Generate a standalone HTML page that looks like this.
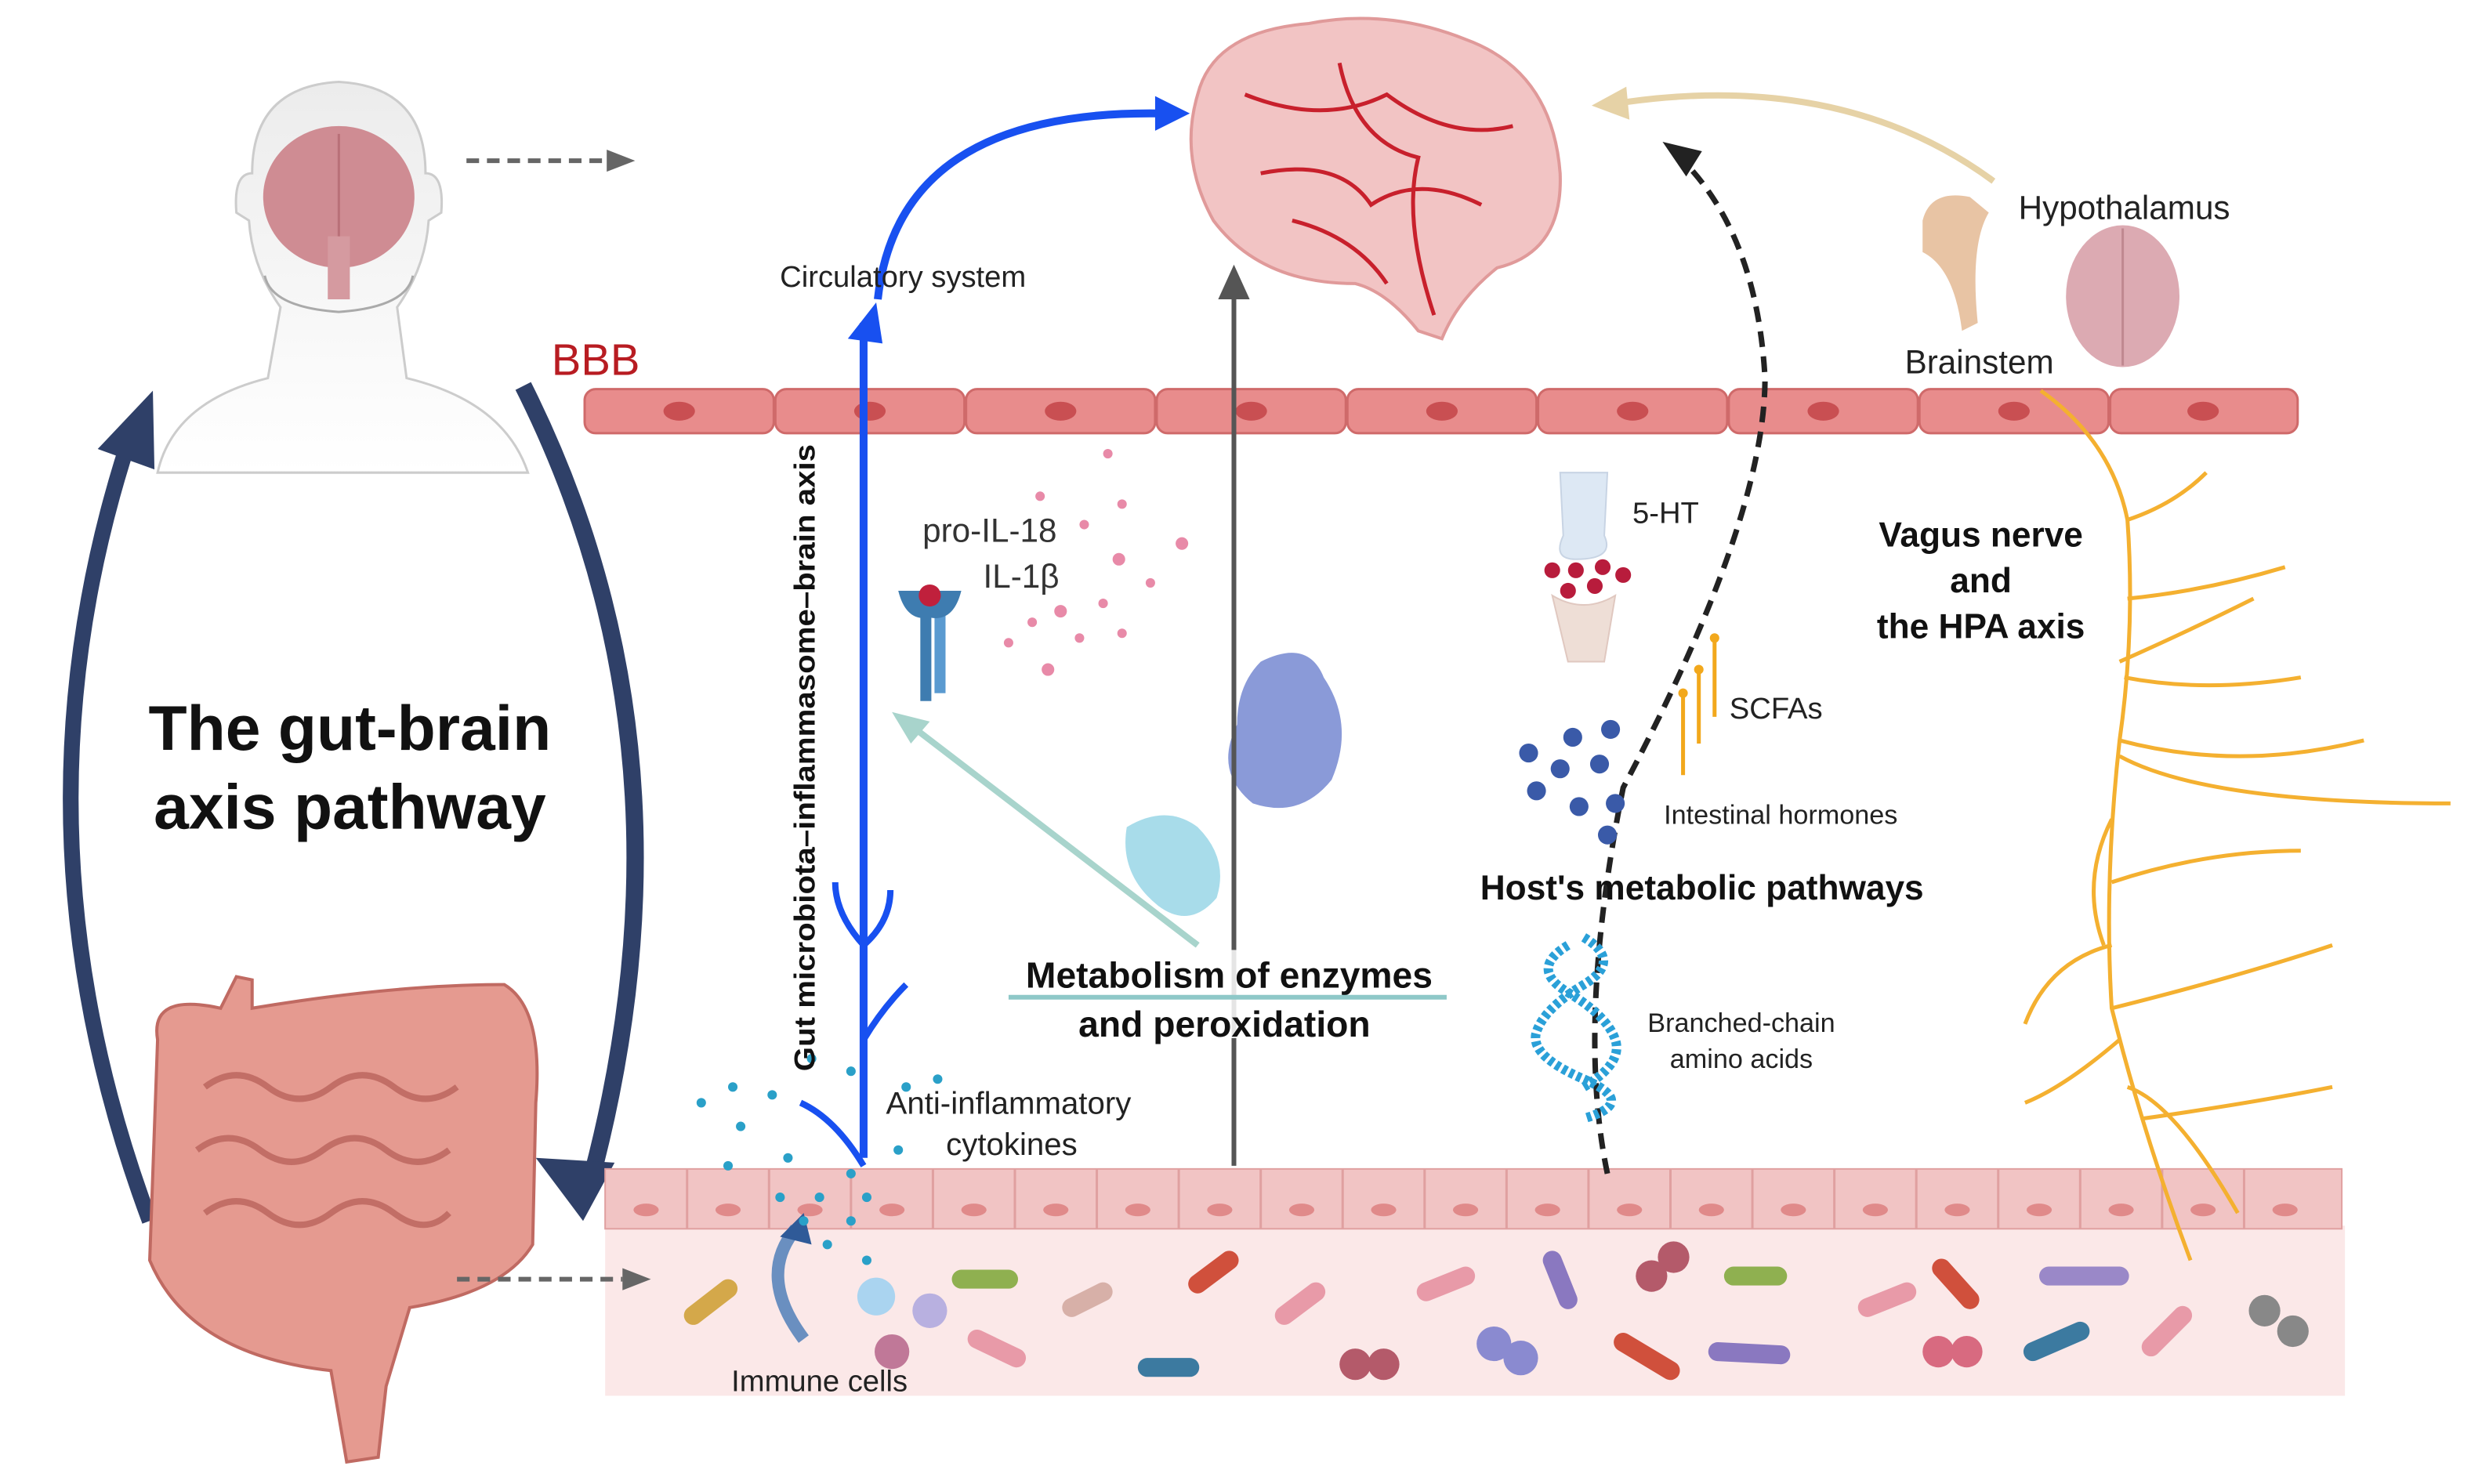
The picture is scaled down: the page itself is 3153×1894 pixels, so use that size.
<!DOCTYPE html>
<html><head><meta charset="utf-8"><style>
html,body{margin:0;padding:0;background:#fff;}
svg{display:block;}
text{font-family:"Liberation Sans",sans-serif;}
</style></head><body>
<svg width="3153" height="1894" viewBox="0 0 1568 942" preserveAspectRatio="none" xmlns="http://www.w3.org/2000/svg">
<defs>
<linearGradient id="fade" x1="0" y1="0" x2="0" y2="1"><stop offset="0" stop-color="#ececec"/><stop offset="1" stop-color="#fff"/></linearGradient>
</defs>
<rect width="1568" height="942" fill="#fff"/>
<!-- human -->
<path d="M100,300 Q110,255 170,240 L178,195 Q160,170 158,140 L150,135 Q148,110 160,110 Q160,55 215,52 Q270,55 270,110 Q282,110 280,135 L272,140 Q270,170 252,195 L258,240 Q320,255 335,300 Z" fill="url(#fade)" stroke="#ccc" stroke-width="1.5"/>
<path d="M168,175 Q172,195 215,198 Q258,195 262,175" fill="none" stroke="#aaa" stroke-width="1.5"/>
<ellipse cx="215" cy="125" rx="48" ry="45" fill="#cf8c93"/>
<rect x="208" y="150" width="14" height="40" fill="#d59aa0"/>
<line x1="215" y1="85" x2="215" y2="150" stroke="#b97078" stroke-width="1.5"/>
<line x1="296" y1="102" x2="385" y2="102" stroke="#666" stroke-width="3" stroke-dasharray="8,5"/>
<path d="M385,95 L403,102 L385,109z" fill="#666"/>
<!-- big navy arrows -->
<path d="M95,775 Q0,520 85,270" fill="none" stroke="#2f4068" stroke-width="10"/>
<path d="M62,285 L97,248 L98,298z" fill="#2f4068"/>
<path d="M332,245 Q450,480 372,760" fill="none" stroke="#2f4068" stroke-width="11"/>
<path d="M340,735 L390,738 L370,775z" fill="#2f4068"/>
<text x="222" y="476" font-size="40" font-weight="bold" text-anchor="middle" fill="#111">The gut-brain</text>
<text x="222" y="526" font-size="40" font-weight="bold" text-anchor="middle" fill="#111">axis pathway</text>
<!-- intestine -->
<path d="M100,660 Q95,630 140,640 L150,620 L160,622 L160,640 Q250,625 320,625 Q345,640 340,700 L338,790 Q320,820 260,830 L245,880 L240,925 L220,928 L210,870 Q120,860 95,800 Z" fill="#e59a90" stroke="#c06a62" stroke-width="2"/>
<path d="M130,690 q20,-15 40,0 t40,0 t40,0 t40,0 M125,730 q20,-15 40,0 t40,0 t40,0 t40,0 M130,770 q20,-15 40,0 t40,0 t40,0 t35,0" fill="none" stroke="#c26e66" stroke-width="4"/>
<!-- BBB -->
<text x="350" y="238" font-size="28" fill="#b81c22">BBB</text>
<g fill="#e88c8c" stroke="#cf6a6a" stroke-width="1.5">
<rect x="371" y="247" width="120" height="28" rx="7"/><rect x="492" y="247" width="120" height="28" rx="7"/><rect x="613" y="247" width="120" height="28" rx="7"/><rect x="734" y="247" width="120" height="28" rx="7"/><rect x="855" y="247" width="120" height="28" rx="7"/><rect x="976" y="247" width="120" height="28" rx="7"/><rect x="1097" y="247" width="120" height="28" rx="7"/><rect x="1218" y="247" width="120" height="28" rx="7"/><rect x="1339" y="247" width="119" height="28" rx="7"/>
</g>
<g fill="#c94f52"><ellipse cx="431" cy="261" rx="10" ry="6"/><ellipse cx="552" cy="261" rx="10" ry="6"/><ellipse cx="673" cy="261" rx="10" ry="6"/><ellipse cx="794" cy="261" rx="10" ry="6"/><ellipse cx="915" cy="261" rx="10" ry="6"/><ellipse cx="1036" cy="261" rx="10" ry="6"/><ellipse cx="1157" cy="261" rx="10" ry="6"/><ellipse cx="1278" cy="261" rx="10" ry="6"/><ellipse cx="1398" cy="261" rx="10" ry="6"/></g>
<!-- gut wall -->
<rect x="384" y="778" width="1104" height="108" fill="#fbe8e8"/>
<rect x="384" y="742" width="1102" height="38" fill="#f1c4c4" stroke="#e0a0a0"/>
<g stroke="#e0a0a0" stroke-width="1.5">
<line x1="436" y1="742" x2="436" y2="780"/><line x1="488" y1="742" x2="488" y2="780"/><line x1="540" y1="742" x2="540" y2="780"/><line x1="592" y1="742" x2="592" y2="780"/><line x1="644" y1="742" x2="644" y2="780"/><line x1="696" y1="742" x2="696" y2="780"/><line x1="748" y1="742" x2="748" y2="780"/><line x1="800" y1="742" x2="800" y2="780"/><line x1="852" y1="742" x2="852" y2="780"/><line x1="904" y1="742" x2="904" y2="780"/><line x1="956" y1="742" x2="956" y2="780"/><line x1="1008" y1="742" x2="1008" y2="780"/><line x1="1060" y1="742" x2="1060" y2="780"/><line x1="1112" y1="742" x2="1112" y2="780"/><line x1="1164" y1="742" x2="1164" y2="780"/><line x1="1216" y1="742" x2="1216" y2="780"/><line x1="1268" y1="742" x2="1268" y2="780"/><line x1="1320" y1="742" x2="1320" y2="780"/><line x1="1372" y1="742" x2="1372" y2="780"/><line x1="1424" y1="742" x2="1424" y2="780"/></g>
<g fill="#e08a8a"><ellipse cx="410" cy="768" rx="8" ry="4"/><ellipse cx="462" cy="768" rx="8" ry="4"/><ellipse cx="514" cy="768" rx="8" ry="4"/><ellipse cx="566" cy="768" rx="8" ry="4"/><ellipse cx="618" cy="768" rx="8" ry="4"/><ellipse cx="670" cy="768" rx="8" ry="4"/><ellipse cx="722" cy="768" rx="8" ry="4"/><ellipse cx="774" cy="768" rx="8" ry="4"/><ellipse cx="826" cy="768" rx="8" ry="4"/><ellipse cx="878" cy="768" rx="8" ry="4"/><ellipse cx="930" cy="768" rx="8" ry="4"/><ellipse cx="982" cy="768" rx="8" ry="4"/><ellipse cx="1034" cy="768" rx="8" ry="4"/><ellipse cx="1086" cy="768" rx="8" ry="4"/><ellipse cx="1138" cy="768" rx="8" ry="4"/><ellipse cx="1190" cy="768" rx="8" ry="4"/><ellipse cx="1242" cy="768" rx="8" ry="4"/><ellipse cx="1294" cy="768" rx="8" ry="4"/><ellipse cx="1346" cy="768" rx="8" ry="4"/><ellipse cx="1398" cy="768" rx="8" ry="4"/><ellipse cx="1450" cy="768" rx="8" ry="4"/></g>
<line x1="290" y1="812" x2="395" y2="812" stroke="#666" stroke-width="3" stroke-dasharray="8,5"/>
<path d="M395,805 L413,812 L395,819z" fill="#666"/>
<!-- bacteria -->
<g stroke-width="12" stroke-linecap="round">
<line x1="440" y1="835" x2="462" y2="818" stroke="#d4a84a"/><line x1="610" y1="812" x2="640" y2="812" stroke="#8fb050"/><line x1="680" y1="830" x2="700" y2="820" stroke="#d7b0a8"/><line x1="620" y1="850" x2="645" y2="862" stroke="#e89aa8"/><line x1="728" y1="868" x2="755" y2="868" stroke="#3c7aa0"/><line x1="760" y1="815" x2="780" y2="800" stroke="#d0503c"/><line x1="815" y1="835" x2="835" y2="820" stroke="#e89aa8"/><line x1="905" y1="820" x2="930" y2="810" stroke="#e89aa8"/><line x1="985" y1="800" x2="995" y2="825" stroke="#8a78c0"/><line x1="1100" y1="810" x2="1128" y2="810" stroke="#8fb050"/><line x1="1185" y1="830" x2="1210" y2="820" stroke="#e89aa8"/><line x1="1232" y1="805" x2="1250" y2="825" stroke="#d0503c"/><line x1="1300" y1="810" x2="1345" y2="810" stroke="#9a88c8"/><line x1="1290" y1="858" x2="1320" y2="845" stroke="#3c7aa0"/><line x1="1365" y1="855" x2="1385" y2="835" stroke="#e89aa8"/><line x1="1090" y1="858" x2="1130" y2="860" stroke="#8a78c0"/><line x1="1030" y1="852" x2="1060" y2="870" stroke="#d0503c"/></g>
<g><circle cx="860" cy="866" r="10" fill="#b45a6a"/><circle cx="878" cy="866" r="10" fill="#b45a6a"/><circle cx="948" cy="853" r="11" fill="#8a8ad0"/><circle cx="965" cy="862" r="11" fill="#8a8ad0"/><circle cx="1048" cy="810" r="10" fill="#b45a6a"/><circle cx="1062" cy="798" r="10" fill="#b45a6a"/><circle cx="1230" cy="858" r="10" fill="#d86a80"/><circle cx="1248" cy="858" r="10" fill="#d86a80"/><circle cx="1437" cy="832" r="10" fill="#888"/><circle cx="1455" cy="845" r="10" fill="#888"/><circle cx="556" cy="823" r="12" fill="#aad4f0"/><circle cx="590" cy="832" r="11" fill="#b8b0e0"/><circle cx="566" cy="858" r="11" fill="#c07898"/></g>
<!-- immune arrow -->
<path d="M510,850 Q480,810 505,780" fill="none" stroke="#6a8fc0" stroke-width="8"/>
<path d="M495,785 L510,770 L515,790z" fill="#2f5a98"/>
<text x="520" y="883" font-size="19" text-anchor="middle" fill="#222">Immune cells</text>
<!-- cytokine dots -->
<g fill="#2aa0c8">
<circle cx="445" cy="700" r="3"/><circle cx="465" cy="690" r="3"/><circle cx="490" cy="695" r="3"/><circle cx="470" cy="715" r="3"/><circle cx="462" cy="740" r="3"/><circle cx="500" cy="735" r="3"/><circle cx="520" cy="760" r="3"/><circle cx="540" cy="775" r="3"/><circle cx="525" cy="790" r="3"/><circle cx="550" cy="800" r="3"/><circle cx="510" cy="775" r="3"/><circle cx="540" cy="745" r="3"/><circle cx="515" cy="672" r="3"/><circle cx="540" cy="680" r="3"/><circle cx="575" cy="690" r="3"/><circle cx="570" cy="730" r="3"/><circle cx="595" cy="685" r="3"/><circle cx="495" cy="760" r="3"/><circle cx="550" cy="760" r="3"/></g>
<text x="640" y="707" font-size="20" text-anchor="middle" fill="#222">Anti-inflammatory</text>
<text x="642" y="733" font-size="20" text-anchor="middle" fill="#222">cytokines</text>
<!-- blue circulatory -->
<path d="M548,735 L548,205" fill="none" stroke="#1850f0" stroke-width="5"/>
<path d="M538,215 L556,192 L560,218z" fill="#1850f0"/>
<path d="M548,740 Q530,710 508,700 M548,600 Q530,580 530,560 M548,600 Q565,585 565,565 M548,660 Q560,640 575,625" fill="none" stroke="#1850f0" stroke-width="4"/>
<path d="M557,190 Q570,70 735,72" fill="none" stroke="#1850f0" stroke-width="5"/>
<path d="M733,61 L755,72 L733,83z" fill="#1850f0"/>
<text x="573" y="182" font-size="19" text-anchor="middle" fill="#222">Circulatory system</text>
<text transform="translate(517,680) rotate(-90)" font-size="18.5" font-weight="bold" fill="#111" textLength="398" lengthAdjust="spacingAndGlyphs">Gut microbiota–inflammasome–brain axis</text>
<!-- IL -->
<text x="628" y="344" font-size="21" text-anchor="middle" fill="#333">pro-IL-18</text>
<text x="648" y="373" font-size="21" text-anchor="middle" fill="#333">IL-1β</text>
<g fill="#e88aa8"><circle cx="703" cy="288" r="3"/><circle cx="712" cy="320" r="3"/><circle cx="688" cy="333" r="3"/><circle cx="710" cy="355" r="4"/><circle cx="750" cy="345" r="4"/><circle cx="730" cy="370" r="3"/><circle cx="673" cy="388" r="4"/><circle cx="655" cy="395" r="3"/><circle cx="700" cy="383" r="3"/><circle cx="685" cy="405" r="3"/><circle cx="665" cy="425" r="4"/><circle cx="712" cy="402" r="3"/><circle cx="640" cy="408" r="3"/><circle cx="660" cy="315" r="3"/></g>
<rect x="584" y="385" width="7" height="60" fill="#3e7cb0"/><rect x="593" y="385" width="7" height="55" fill="#5a9ad0"/>
<path d="M570,375 Q575,395 590,392 Q605,395 610,375" fill="#3e7cb0"/>
<circle cx="590" cy="378" r="7" fill="#c0203c"/>
<!-- blobs -->
<path d="M800,420 Q830,405 840,430 Q860,460 845,495 Q825,520 795,510 Q770,490 785,460 Q785,435 800,420z" fill="#8a9ad8"/>
<path d="M715,525 Q740,510 760,525 Q780,545 772,570 Q755,590 735,575 Q710,555 715,525z" fill="#a8dcea"/>
<line x1="760" y1="600" x2="580" y2="462" stroke="#a8d4cc" stroke-width="4"/>
<path d="M566,452 L590,458 L578,472z" fill="#a8d4cc"/>
<!-- gray vertical -->
<line x1="783" y1="740" x2="783" y2="185" stroke="#555" stroke-width="3"/>
<path d="M773,190 L783,168 L793,190z" fill="#555"/>
<rect x="630" y="603" width="290" height="56" fill="#fff" opacity="0.85"/>
<text x="780" y="627" font-size="23" font-weight="bold" text-anchor="middle" fill="#111">Metabolism of enzymes</text>
<line x1="640" y1="633" x2="918" y2="633" stroke="#8ec8c8" stroke-width="3"/>
<text x="777" y="658" font-size="23" font-weight="bold" text-anchor="middle" fill="#111">and peroxidation</text>
<!-- brain -->
<path d="M760,60 Q770,20 830,15 Q880,5 930,25 Q985,45 990,110 Q992,160 950,170 Q925,190 915,215 L900,210 Q880,185 860,180 Q800,180 770,140 Q748,100 760,60z" fill="#f2c4c4" stroke="#e09a9a" stroke-width="2"/>
<path d="M790,60 Q840,80 880,60 Q920,90 960,80 M800,110 Q850,100 870,130 Q900,110 940,130 M850,40 Q860,90 900,100 Q890,140 910,200 M820,140 Q860,150 880,180" fill="none" stroke="#c8202c" stroke-width="2.5"/>
<!-- tan arrow -->
<path d="M1265,115 Q1170,45 1030,65" fill="none" stroke="#e6d2a6" stroke-width="4"/>
<path d="M1032,55 L1010,67 L1034,76z" fill="#e6d2a6"/>
<text x="1348" y="139" font-size="21" text-anchor="middle" fill="#222">Hypothalamus</text>
<path d="M1220,140 Q1225,120 1250,125 L1262,135 Q1250,155 1255,205 L1245,210 Q1240,170 1220,160z" fill="#e8c4a4"/>
<ellipse cx="1347" cy="188" rx="36" ry="45" fill="#dcaab2"/>
<line x1="1347" y1="145" x2="1347" y2="232" stroke="#c08890" stroke-width="1.5"/>
<text x="1256" y="237" font-size="21" text-anchor="middle" fill="#222">Brainstem</text>
<!-- dashed curve -->
<path d="M1020,745 Q1000,650 1030,500 Q1120,330 1120,240 Q1115,150 1068,102" fill="none" stroke="#222" stroke-width="3.5" stroke-dasharray="10,6"/>
<path d="M1055,90 L1070,112 L1080,96z" fill="#222"/>
<!-- 5-HT -->
<path d="M990,300 L1020,300 L1018,340 Q1025,355 1000,355 Q985,355 992,340z" fill="#dde8f4" stroke="#c8d4e4"/>
<path d="M985,378 Q1005,390 1025,378 L1018,420 L995,420z" fill="#eeded6" stroke="#e0c8c0"/>
<g fill="#b81c3c"><circle cx="985" cy="362" r="5"/><circle cx="1000" cy="362" r="5"/><circle cx="1017" cy="360" r="5"/><circle cx="1030" cy="365" r="5"/><circle cx="995" cy="375" r="5"/><circle cx="1012" cy="372" r="5"/></g>
<text x="1057" y="332" font-size="19" text-anchor="middle" fill="#222">5-HT</text>
<g stroke="#f2a81c" stroke-width="2.5"><line x1="1068" y1="440" x2="1068" y2="492"/><line x1="1078" y1="425" x2="1078" y2="472"/><line x1="1088" y1="405" x2="1088" y2="455"/></g>
<g fill="#f2a81c"><circle cx="1068" cy="440" r="3"/><circle cx="1078" cy="425" r="3"/><circle cx="1088" cy="405" r="3"/></g>
<text x="1127" y="456" font-size="19" text-anchor="middle" fill="#222">SCFAs</text>
<g fill="#3a5aa8"><circle cx="970" cy="478" r="6"/><circle cx="998" cy="468" r="6"/><circle cx="1022" cy="463" r="6"/><circle cx="990" cy="488" r="6"/><circle cx="1015" cy="485" r="6"/><circle cx="975" cy="502" r="6"/><circle cx="1002" cy="512" r="6"/><circle cx="1025" cy="510" r="6"/><circle cx="1020" cy="530" r="6"/></g>
<text x="1130" y="523" font-size="17" text-anchor="middle" fill="#222">Intestinal hormones</text>
<text x="1080" y="571" font-size="22" font-weight="bold" text-anchor="middle" fill="#111">Host's metabolic pathways</text>
<path d="M1005,595 q25,15 0,30 t-30,30 t30,30 t0,25 M995,600 q-25,15 0,30 t30,30 t-20,30" fill="none" stroke="#2aa0d8" stroke-width="6" stroke-dasharray="3,2"/>
<text x="1105" y="655" font-size="17" text-anchor="middle" fill="#222">Branched-chain</text>
<text x="1105" y="678" font-size="17" text-anchor="middle" fill="#222">amino acids</text>
<!-- vagus -->
<path d="M1295,248 Q1340,280 1350,330 Q1355,400 1345,470 Q1335,560 1340,640 Q1360,720 1390,800 M1350,330 Q1380,320 1400,300 M1350,380 Q1400,375 1450,360 M1348,430 Q1400,440 1460,430 M1345,470 Q1420,490 1500,470 M1345,480 Q1400,510 1555,510 M1340,560 Q1400,540 1460,540 M1340,600 Q1300,610 1285,650 M1340,640 Q1420,620 1480,600 M1345,660 Q1310,690 1285,700 M1350,690 Q1380,700 1420,770 M1360,710 Q1430,700 1480,690 M1340,520 Q1320,560 1335,600 M1345,420 Q1390,400 1430,380" fill="none" stroke="#f4b030" stroke-width="2.5"/>
<text x="1257" y="347" font-size="22" font-weight="bold" text-anchor="middle" fill="#111">Vagus nerve</text>
<text x="1257" y="376" font-size="22" font-weight="bold" text-anchor="middle" fill="#111">and</text>
<text x="1257" y="405" font-size="22" font-weight="bold" text-anchor="middle" fill="#111">the HPA axis</text>
</svg>
</body></html>
